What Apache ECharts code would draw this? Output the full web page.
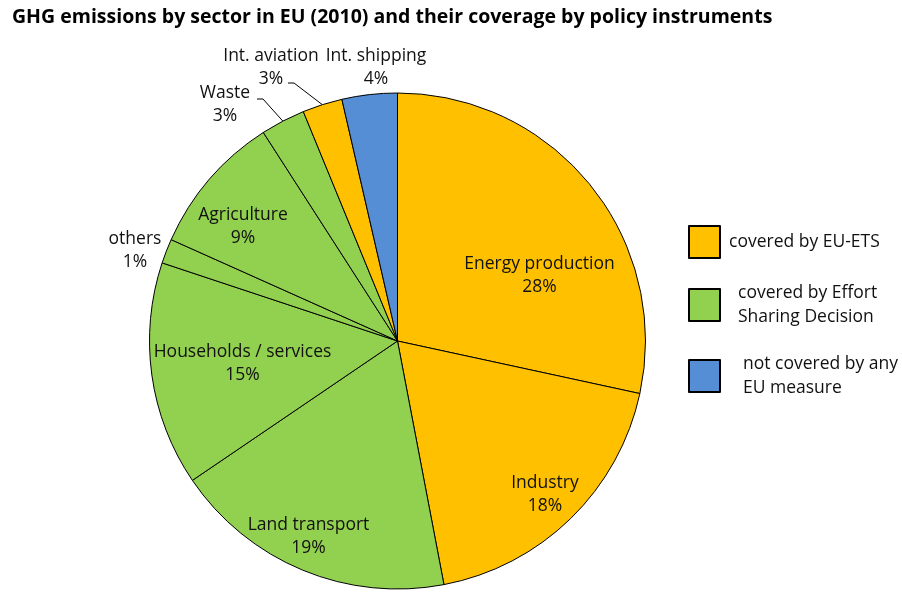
<!DOCTYPE html>
<html><head><meta charset="utf-8">
<script src="https://cdn.jsdelivr.net/npm/echarts@6/dist/echarts.min.js"></script>
<style>html,body{margin:0;padding:0;background:#fff}#c{width:902px;height:602px}</style>
</head><body><div id="c"></div>
<script>
// ---- data ----
const titleText = 'GHG emissions by sector in EU (2010) and their coverage by policy instruments';
const sectors = ['Energy production', 'Industry', 'Land transport', 'Households / services', 'others', 'Agriculture', 'Waste', 'Int. aviation', 'Int. shipping'];
const shares = [28.4, 18.6, 18.5, 14.6, 1.6, 9.2, 2.9, 2.6, 3.6];
const shareLabels = ['28%', '18%', '19%', '15%', '1%', '9%', '3%', '3%', '4%'];
const coverage = ['ets', 'ets', 'esd', 'esd', 'esd', 'esd', 'esd', 'ets', 'none'];
const coverageKeys = ['ets', 'esd', 'none'];
const coverageNames = ['covered by EU-ETS', 'covered by Effort Sharing Decision', 'not covered by any EU measure'];
const coverageLegendText = ['covered by EU-ETS', 'covered by Effort\nSharing Decision', 'not covered by any\nEU measure'];

// ---- styling / layout ----
const FONT = '"Open Sans", "Noto Sans", sans-serif';
const colors = { ets: '#FFC000', esd: '#92D050', none: '#558ED5' };
const CX = 397.5, CY = 341, R = 248;
// label centres relative to pie centre (px)
const labelOffsets = [[142, -65], [147.5, 154], [-89, 196], [-155, 23], [-262.5, -90], [-154.5, -114], [-172.5, -236], [-126.5, -273], [-21.5, -273]];
const outsideIdx = [4, 6, 7, 8];
const leaderEnd = { 6: [32, -6], 7: [17, 15] };
const legendTops = [225, 281, 352];
const legendTextPad = [4, 13, 18];

const total = shares.reduce((a, b) => a + b, 0);
const cum = [];
shares.reduce((a, v, i) => { cum[i] = a; return a + v; }, 0);

const coverageValues = coverageKeys.map(k => shares.reduce((s, v, i) => s + (coverage[i] === k ? v : 0), 0));

const chart = echarts.init(document.getElementById('c'));
chart.setOption({
  backgroundColor: '#fff',
  animation: false,
  title: {
    text: titleText, left: 12, top: 7, padding: 0,
    textStyle: { fontFamily: FONT, fontSize: 19.5, fontWeight: 'bold', color: '#000' }
  },
  legend: coverageNames.map((n, i) => ({
    data: [n], orient: 'vertical', left: 688, top: legendTops[i], padding: 0,
    itemWidth: 31, itemHeight: 32, itemGap: 0, selectedMode: false,
    icon: 'rect', itemStyle: { borderColor: '#000', borderWidth: 2 },
    formatter: name => coverageLegendText[coverageNames.indexOf(name)],
    textStyle: { fontFamily: FONT, fontSize: 17.5, color: '#111', lineHeight: 24, padding: [0, 0, 0, legendTextPad[i]] }
  })),
  series: [
    {
      type: 'pie', name: 'coverage', radius: [0, 0], center: [CX, CY], silent: true,
      label: { show: false }, labelLine: { show: false },
      itemStyle: { borderWidth: 0 },
      data: coverageKeys.map((k, i) => ({ name: coverageNames[i], value: coverageValues[i], itemStyle: { color: colors[k] } }))
    },
    {
      type: 'pie', name: 'sectors', center: [CX, CY], radius: R, startAngle: 90, clockwise: true,
      avoidLabelOverlap: false, silent: true,
      emphasis: { disabled: true },
      itemStyle: { borderColor: '#000', borderWidth: 1 },
      label: {
        show: true, position: 'inside',
        formatter: p => sectors[p.dataIndex] + '\n' + shareLabels[p.dataIndex],
        fontFamily: FONT, fontSize: 17.5, lineHeight: 23, color: '#111', textBorderWidth: 0
      },
      labelLine: { show: false },
      data: sectors.map((s, i) => {
        const d = { name: s, value: shares[i], itemStyle: { color: colors[coverage[i]] } };
        if (outsideIdx.includes(i)) {
          d.label = { position: 'outside' };
          d.labelLine = leaderEnd[i] ? { show: true, length: 10, length2: 6, lineStyle: { color: '#000', width: 1 } } : { show: false };
        }
        return d;
      }),
      labelLayout: function (p) {
        if (p.seriesIndex !== 1) return;
        const i = p.dataIndex;
        const x = CX + labelOffsets[i][0], y = CY + labelOffsets[i][1];
        const res = { x: x, y: y, align: 'center', verticalAlign: 'middle' };
        if (leaderEnd[i]) {
          const th = (cum[i] + shares[i] / 2) / total * 2 * Math.PI;
          const edge = [CX + R * Math.sin(th), CY - R * Math.cos(th)];
          const end = [x + leaderEnd[i][0], y + leaderEnd[i][1]];
          const bend = [end[0] + 6, end[1]];
          res.labelLinePoints = [edge, bend, end];
        }
        return res;
      }
    }
  ]
});
</script>
</body></html>
